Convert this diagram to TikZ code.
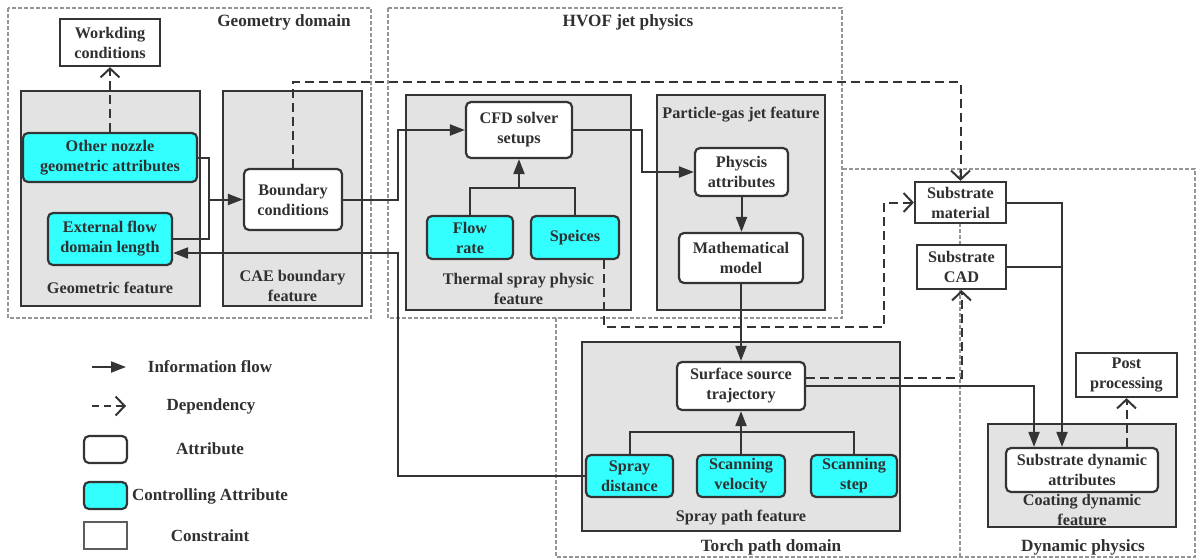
\documentclass[tikz,border=0pt]{standalone}
\usepackage{fontspec}
\setmainfont{Liberation Serif}
\usetikzlibrary{arrows.meta,calc}
\definecolor{ink}{HTML}{343434}
\definecolor{txt}{HTML}{303030}
\definecolor{cyanfill}{HTML}{33FFFF}
\definecolor{featfill}{HTML}{E3E3E3}
\definecolor{domcol}{HTML}{959595}
\tikzset{
  base/.style={font=\fontsize{16.2}{20}\selectfont\bfseries, text=txt, align=center, inner sep=0pt},
  sz/.style 2 args={minimum width=#1pt, minimum height=#2pt},
  attr/.style={base, draw=ink, line width=2.2pt, fill=white, rounded corners=5pt},
  ctrl/.style={attr, fill=cyanfill},
  cons/.style={base, draw=ink, line width=2.2pt, fill=white},
  feat/.style={draw=ink, line width=2.6pt, fill=featfill, inner sep=0pt},
  lbl/.style={base},
  leglbl/.style={base, font=\fontsize{17}{20}\selectfont\bfseries},
  domlbl/.style={base, font=\fontsize{17.2}{20}\selectfont\bfseries},
  domframe/.style={draw=domcol, line width=1.2pt, dash pattern=on 4pt off 2pt},
  link/.style={draw=ink, line width=2pt},
  flow/.style={link, -{Triangle[length=15pt,width=11pt]}},
  dep/.style={draw=ink, line width=2pt, dash pattern=on 9pt off 5pt, -{Straight Barb[length=9pt,width=19pt]}},
}
\begin{document}
\begin{tikzpicture}[x=1pt,y=-1pt]
\useasboundingbox (0,0) rectangle (1196,559);
% domains
\draw[domframe] (8,8) rectangle (371,318);
\draw[domframe] (388,8) rectangle (842,318);
\draw[domframe] (556,318) -- (556,557) -- (1195,557) -- (1195,169) -- (842,169);
\draw[domframe] (960,169) -- (960,557);
\node[domlbl] (geodom) at (284,22) {Geometry domain};
\node[domlbl] (hvofdom) at (628,22) {HVOF jet physics};
\node[domlbl] (torchdom) at (771,547) {Torch path domain};
\node[domlbl] (dyndom) at (1083,547) {Dynamic physics};
% feature boxes
\node[feat, sz={179}{215}] (geofeat) at (110.5,198.5) {};
\node[feat, sz={139}{215}] (caefeat) at (292.5,198.5) {};
\node[feat, sz={225}{215}] (tsfeat) at (518.5,202.5) {};
\node[feat, sz={168}{215}] (pgfeat) at (741,202.5) {};
\node[feat, sz={318}{189}] (spfeat) at (741,436.5) {};
\node[feat, sz={188}{103}] (cdfeat) at (1082,475.5) {};
\node[lbl] (geolbl) at (110,288) {Geometric feature};
\node[lbl] (caelbl) at (292.5,286) {CAE boundary\\feature};
\node[lbl] (tslbl) at (518.5,289) {Thermal spray physic\\feature};
\node[lbl] (pglbl) at (741,115) {Particle-gas jet feature};
\node[lbl] (splbl) at (741,518) {Spray path feature};
\node[lbl] (cdlbl) at (1082,510) {Coating dynamic\\feature};
% constraints
\node[cons, sz={100}{47}] (work) at (110,42.5) {Workding\\conditions};
\node[cons, sz={91}{41}] (submat) at (960.5,202.5) {Substrate\\material};
\node[cons, sz={89}{44}] (subcad) at (961.5,267) {Substrate\\CAD};
\node[cons, sz={101}{44}] (post) at (1126.5,375) {Post\\processing};
% controlling attributes
\node[ctrl, sz={174}{49}] (nozzle) at (110,157.5) {Other nozzle\\geometric attributes};
\node[ctrl, sz={124}{52}] (extflow) at (110,239) {External flow\\domain length};
\node[ctrl, sz={86}{43}] (flow) at (470,237.5) {Flow\\rate};
\node[ctrl, sz={88}{43}] (spec) at (575,237.5) {Speices};
\node[ctrl, sz={87}{42}] (spray) at (629.5,476) {Spray\\distance};
\node[ctrl, sz={88}{42}] (scanv) at (741,476) {Scanning\\velocity};
\node[ctrl, sz={86}{42}] (scans) at (854,476) {Scanning\\step};
% attributes
\node[attr, sz={98}{61}] (bc) at (293,199.5) {Boundary\\conditions};
\node[attr, sz={106}{56}] (cfd) at (519,130) {CFD solver\\setups};
\node[attr, sz={93}{48}] (phys) at (741.5,172) {Physcis\\attributes};
\node[attr, sz={124}{50}] (math) at (741,258) {Mathematical\\model};
\node[attr, sz={128}{48}] (surf) at (741,386) {Surface source\\trajectory};
\node[attr, sz={152}{44}] (subdyn) at (1082,470) {Substrate dynamic\\attributes};
% connectors
\draw[dep] (nozzle.north) -- (work.south);
\coordinate (j1) at (209,199.5);
\draw[link] (nozzle.east) -| (j1);
\draw[link] (extflow.east) -| (j1);
\draw[flow] (j1) -- (bc.west);
\coordinate (k1) at (398,199.5);
\draw[flow] (bc.east) -- (k1) |- (cfd.west);
\coordinate (k2) at (398,476);
\draw[flow] (spray.west) -- (k2) |- ($(extflow.east)+(0,14)$);
\draw[flow] (cfd.east) -- ++(69,0) |- (phys.west);
\draw[flow] (phys.south) -- (phys.south |- math.north);
\draw[flow] (math.south) -- (surf.north);
\coordinate (t1) at (519,188);
\draw[link] (flow.north) |- (t1) -| (spec.north);
\draw[flow] (t1) -- (cfd.south);
\coordinate (t2) at (741,432);
\draw[link] (spray.north) |- (t2) -| (scans.north);
\draw[flow] (scanv.north) -- (surf.south);
\coordinate (d1) at (884,327);
\draw[dep] ($(spec.south)+(29,0)$) |- (d1) |- (submat.west);
\draw[dep] ($(surf.east)+(0,-8)$) -| (subcad.south);
\draw[flow] (surf.east) -| ($(subdyn.north)+(-48,0)$);
\coordinate (m1) at ($(subdyn.north)+(-20,0)$);
\draw[flow] (submat.east) -| (m1);
\draw[link] (subcad.east) -- (subcad.east -| m1);
\draw[dep] (post.south |- subdyn.north) -- (post.south);
\coordinate (d2) at (293,82);
\draw[dep] (bc.north) -- (d2) -| (submat.north);
% legend
\coordinate (lf1) at (92,367);
\coordinate (lf2) at (126,367);
\draw[flow] (lf1) -- (lf2);
\coordinate (ld1) at (92,406);
\coordinate (ld2) at (126,406);
\draw[dep, dash pattern=on 7pt off 5pt] (ld1) -- (ld2);
\node[attr, sz={43}{27}] (lgA) at (105.5,449.5) {};
\node[ctrl, sz={43}{27}] (lgC) at (105.5,495.5) {};
\node[cons, draw=ink!80, sz={43}{27}] (lgK) at (105.5,535.5) {};
\node[leglbl] (lgt1) at (210,367) {Information flow};
\node[leglbl] (lgt2) at (211,406) {Dependency};
\node[leglbl] (lgt3) at (210,449) {Attribute};
\node[leglbl] (lgt4) at (210,496) {Controlling Attribute};
\node[leglbl] (lgt5) at (210,536) {Constraint};
\end{tikzpicture}
\end{document}
